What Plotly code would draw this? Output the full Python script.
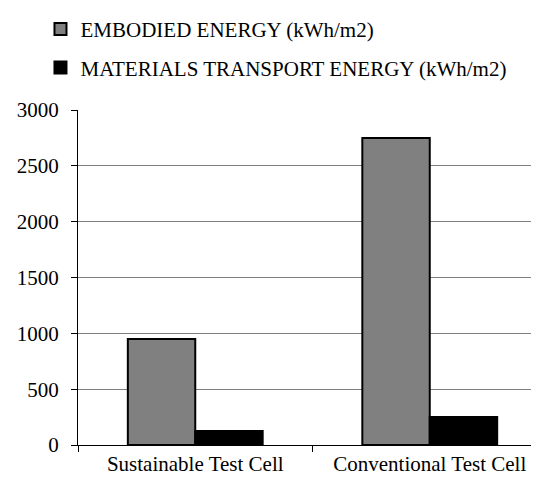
import plotly.graph_objects as go

categories = ["Sustainable Test Cell", "Conventional Test Cell"]
embodied = [950, 2750]
transport = [125, 250]
series_names = ["EMBODIED ENERGY (kWh/m2)", "MATERIALS TRANSPORT ENERGY (kWh/m2)"]
y_ticks = [0, 500, 1000, 1500, 2000, 2500, 3000]

FONT = "Liberation Serif"
FS = 21

fig = go.Figure()
fig.add_trace(go.Bar(x=categories, y=embodied, name=series_names[0],
                     marker=dict(color="#808080", line=dict(color="#000000", width=2)),
                     legendgroup="a"))
fig.add_trace(go.Bar(x=categories, y=transport, name=series_names[1],
                     marker=dict(color="#000000", line=dict(color="#000000", width=2)),
                     legendgroup="b"))

fig.update_layout(
    width=539, height=480,
    margin=dict(l=70, r=0, t=102, b=43),
    paper_bgcolor="white", plot_bgcolor="white",
    font=dict(family=FONT, size=FS, color="black"),
    barmode="group", bargap=0.425, bargroupgap=0,
    showlegend=True,
    legend=dict(x=-0.08, y=0.998, xanchor="left", yanchor="top",
                yref="container", traceorder="grouped", tracegroupgap=8,
                font=dict(family=FONT, size=FS, color="black"),
                bgcolor="rgba(0,0,0,0)", itemwidth=30),
    xaxis=dict(type="category", range=[-0.5, 1.5], showline=True, linecolor="black",
               linewidth=1, ticks="outside", ticklen=6, tickcolor="black",
               tickson="boundaries", showgrid=False, zeroline=False,
               tickfont=dict(family=FONT, size=FS, color="black")),
    yaxis=dict(range=[0, 3000], tickvals=y_ticks, showline=True, linecolor="black",
               linewidth=1, ticks="outside", ticklen=6, tickcolor="black",
               showgrid=True, gridcolor="#808080", gridwidth=1, zeroline=False,
               ticklabelstandoff=8,
               tickfont=dict(family=FONT, size=FS, color="black")),
)

fig.write_html("out.html")
